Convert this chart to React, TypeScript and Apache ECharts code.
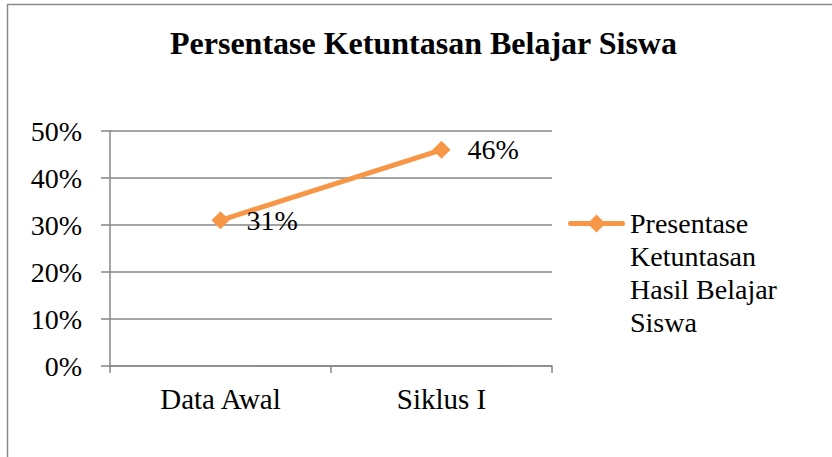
import React, { useEffect, useRef } from "react";
import * as echarts from "echarts";

const categories = ["Data Awal", "Siklus I"];
const seriesName = "Presentase Ketuntasan Hasil Belajar Siswa";
const seriesValues = [0.31, 0.46];
const yTicks = { min: 0, max: 0.5, interval: 0.1 };
const titleText = "Persentase Ketuntasan Belajar Siswa";

const FONT = "Liberation Serif";
const pct = (v: number) => `${Math.round(v * 100)}%`;

// legend icon: line + diamond placed at the top of a tall box so it lines up with the first text line
const LEGEND_ICON =
  "path://M0,0 M57,132 M2.5,14 L54.5,14 A2.5,2.5 0 0 1 54.5,19 L2.5,19 A2.5,2.5 0 0 1 2.5,14 Z M28.5,7.5 L37.5,16.5 L28.5,25.5 L19.5,16.5 Z";

export default function App() {
  const ref = useRef<HTMLDivElement>(null);
  useEffect(() => {
    if (!ref.current) return;
    const chart = echarts.init(ref.current, undefined, { renderer: "svg" });
    chart.setOption({
      animation: false,
      backgroundColor: "#ffffff",
      title: {
        text: titleText,
        left: 170,
        top: 27,
        padding: 0,
        textStyle: { fontFamily: FONT, fontSize: 32, fontWeight: "bold", color: "#000" },
      },
      legend: {
        left: 568,
        top: 207,
        orient: "vertical",
        itemWidth: 57,
        itemHeight: 132,
        padding: 0,
        icon: LEGEND_ICON,
        formatter: () => "Presentase\nKetuntasan\nHasil Belajar\nSiswa",
        textStyle: {
          fontFamily: FONT,
          fontSize: 28,
          lineHeight: 33,
          color: "#000",
        },
        data: [seriesName],
      },
      grid: { left: 110, right: 280, top: 131, bottom: 91, containLabel: false },
      xAxis: {
        type: "category",
        data: categories,
        boundaryGap: true,
        axisLine: { show: true, lineStyle: { color: "#868686", width: 1.5 } },
        axisTick: { show: true, length: 7, alignWithLabel: false, lineStyle: { color: "#868686", width: 1.5 } },
        axisLabel: { fontFamily: FONT, fontSize: 29, color: "#000", margin: 18 },
        splitLine: { show: false },
      },
      yAxis: {
        type: "value",
        min: yTicks.min,
        max: yTicks.max,
        interval: yTicks.interval,
        axisLine: { show: true, lineStyle: { color: "#868686", width: 1.5 } },
        axisTick: { show: true, length: 9, lineStyle: { color: "#868686", width: 1.5 } },
        axisLabel: { fontFamily: FONT, fontSize: 28, color: "#000", margin: 28, formatter: pct },
        splitLine: { show: true, lineStyle: { color: "#868686", width: 1.5 } },
      },
      series: [
        {
          name: seriesName,
          type: "line",
          data: seriesValues,
          symbol: "diamond",
          symbolSize: 18,
          color: "#F79646",
          lineStyle: { color: "#F79646", width: 5, cap: "round" },
          itemStyle: { color: "#F79646" },
          label: {
            show: true,
            position: "right",
            distance: 17,
            fontFamily: FONT,
            fontSize: 28,
            color: "#000",
            formatter: (p: any) => pct(p.value),
          },
        },
      ],
      graphic: [
        { type: "line", shape: { x1: 7.5, y1: 4, x2: 7.5, y2: 460 }, style: { stroke: "#8a8a8a", lineWidth: 1.5 } },
        { type: "line", shape: { x1: 7, y1: 4.5, x2: 835, y2: 4.5 }, style: { stroke: "#8a8a8a", lineWidth: 1.5 } },
      ],
    });
    return () => chart.dispose();
  }, []);
  return (
    <div
      ref={ref}
      style={{ position: "fixed", left: 0, top: 0, width: 832, height: 457 }}
    />
  );
}
